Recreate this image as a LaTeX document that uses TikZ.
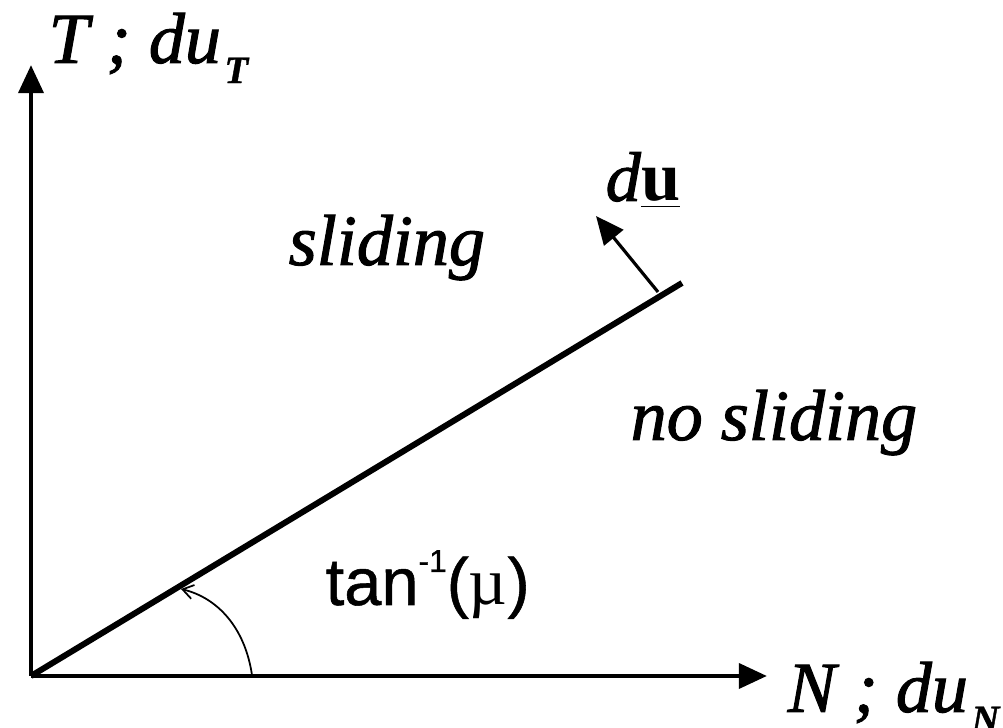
\documentclass[tikz,border=0pt]{standalone}
\usepackage{fontspec}
\setmainfont{Liberation Serif}
\setsansfont{Liberation Sans}
\newfontfamily\lblfont{Liberation Serif}[ItalicFeatures={FakeBold=1.4},BoldItalicFeatures={FakeBold=1}]
\newfontfamily\angfont{Liberation Sans}[UprightFeatures={FakeBold=.8}]
\usetikzlibrary{arrows.meta}
\newcommand{\axsub}[1]{\hspace{1pt}\raisebox{-5.7pt}{\fontsize{11}{13}\selectfont\bfseries\itshape #1}}
\begin{document}
\begin{tikzpicture}[x=.01cm,y=.01cm,>={Triangle[length=8pt,width=7pt]},
  lab/.style={anchor=base west,inner sep=0pt,font=\fontsize{20.5}{24}\lblfont\itshape}]
  \useasboundingbox (0,0) rectangle (1003,728);
  \coordinate (O) at (31,52); \coordinate (Ytop) at (31,663); \coordinate (Xend) at (767,52);
  \coordinate (E) at (682,445); \coordinate (B) at (658,436); \coordinate (U) at (596,512);
  \coordinate (A0) at (252,53); \coordinate (A1) at (181,139);
  \draw[line width=1.4pt,->] (O)--(Ytop); \draw[line width=1.4pt,->] (O)--(Xend);
  \draw[line width=1.7pt] (O)--(E);
  \draw[line width=.9pt,->] (B)--(U);
  \draw[line width=.5pt,-{Straight Barb[length=3pt,width=4pt]}] (A0) .. controls (245,100) and (218,130) .. (A1);
  \node[lab] (tlab) at (48,665) {T ; du\axsub{T}};
  \node[lab] (nlab) at (787,16) {N ; du\axsub{N}};
  \node[lab,font=\fontsize{20}{24}\lblfont] (dulab) at (605,527) {\textit{d}\underline{\textbf{u}}};
  \node[lab] (slid) at (288,463) {sliding};
  \node[lab] (noslid) at (630,288) {no sliding};
  \node[lab,font=\fontsize{19}{23}\angfont] (angl) at (325,123)
    {tan\raisebox{9.4pt}{\fontsize{9}{10}\selectfont -1}({\lblfont\textmu})};
\end{tikzpicture}
\end{document}
